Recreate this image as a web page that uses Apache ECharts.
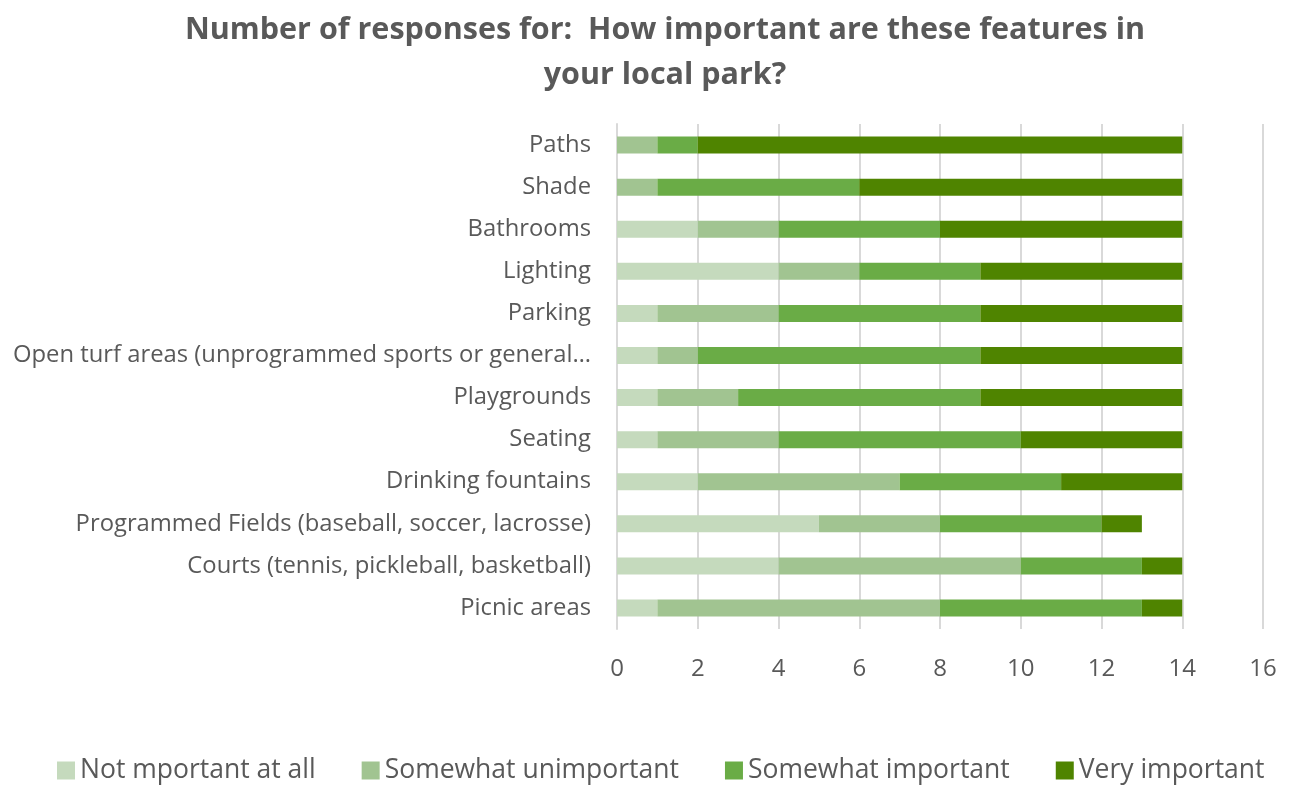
<!DOCTYPE html>
<html>
<head>
<meta charset="utf-8">
<script src="https://cdn.jsdelivr.net/npm/echarts@6/dist/echarts.min.js"></script>
<style>
html,body{margin:0;padding:0;background:#fff;}
#chart{width:1314px;height:787px;}
</style>
</head>
<body>
<div id="chart"></div>
<script>
var categories = ["Paths","Shade","Bathrooms","Lighting","Parking","Open turf areas (unprogrammed sports or general\u2026","Playgrounds","Seating","Drinking fountains","Programmed Fields (baseball, soccer, lacrosse)","Courts (tennis, pickleball, basketball)","Picnic areas"];
var seriesNames = ["Not mportant at all","Somewhat unimportant","Somewhat important","Very important"];
var notImportant = [0,0,2,4,1,1,1,1,2,5,4,1];
var somewhatUnimportant = [1,1,2,2,3,1,2,3,5,3,6,7];
var somewhatImportant = [1,5,4,3,5,7,6,6,4,4,3,5];
var veryImportant = [12,8,6,5,5,5,5,4,3,1,1,1];
var xTicks = [0,2,4,6,8,10,12,14,16];

var colors = ["#c5dabd","#a1c491","#6aac46","#4f8400"];
var font = "'Open Sans', sans-serif";
var chart = echarts.init(document.getElementById('chart'));
var values = [notImportant, somewhatUnimportant, somewhatImportant, veryImportant];
var series = seriesNames.map(function(n,i){
  return {name:n,type:'bar',stack:'total',barWidth:17,data:values[i],
    itemStyle:{color:colors[i]},emphasis:{disabled:true}};
});
chart.setOption({
  animation:false,
  title:{text:"Number of responses for:  How important are these features in\nyour local park?",left:660,textAlign:'center',top:3,
    textStyle:{fontFamily:font,fontSize:30.5,fontWeight:'bold',color:'#595959',lineHeight:45}},
  grid:{left:617,right:51,top:124,bottom:158,containLabel:false},
  legend:{bottom:-2,left:52,itemWidth:18,itemHeight:18,itemGap:46,icon:'rect',
    textStyle:{fontFamily:font,fontSize:26.5,color:'#595959'},data:seriesNames},
  xAxis:{type:'value',min:0,max:16,interval:2,
    axisLine:{show:false},axisTick:{show:false},
    splitLine:{lineStyle:{color:'#d9d9d9',width:2}},
    axisLabel:{fontFamily:font,fontSize:24,color:'#595959',margin:28,
      formatter:function(v){return xTicks.indexOf(v)>=0?String(v):'';}}},
  yAxis:{type:'category',data:categories,inverse:true,
    axisLine:{show:true,lineStyle:{color:'#d9d9d9',width:2}},axisTick:{show:false},
    axisLabel:{fontFamily:font,fontSize:23.8,color:'#595959',margin:26}},
  series:series
});
</script>
</body>
</html>
